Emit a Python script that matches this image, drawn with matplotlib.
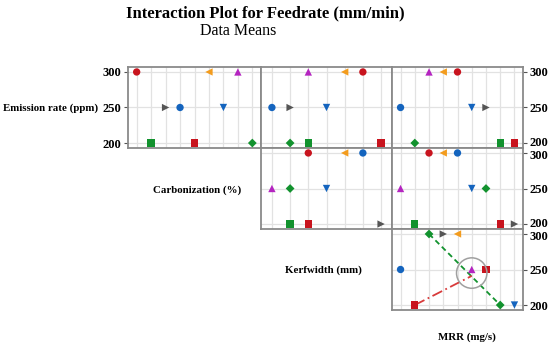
import matplotlib.pyplot as plt
from matplotlib.transforms import ScaledTranslation

# marker styles: key -> (colour, marker)
styles = {
    'red_circle': ('#c8141e', 'o'),
    'green_square': ('#12922e', 's'),
    'gray_right': ('#555555', '>'),
    'blue_circle': ('#1464be', 'o'),
    'red_square': ('#c8141e', 's'),
    'orange_left': ('#f39c1e', '<'),
    'blue_down': ('#1464be', 'v'),
    'magenta_up': ('#b424c0', '^'),
    'green_diamond': ('#12922e', 'D'),
}

row0_keys = ['red_circle', 'green_square', 'gray_right', 'blue_circle', 'red_square',
             'orange_left', 'blue_down', 'magenta_up', 'green_diamond']
emission = [300, 200, 250, 250, 200, 300, 250, 300, 200]
x_00 = [1, 2, 3, 4, 5, 6, 7, 8, 9]
x_01 = [6, 3, 2, 1, 7, 5, 4, 3, 2]
x_02 = [5, 8, 7, 1, 9, 4, 6, 3, 2]

carbonization = [300, 200, 200, 300, 200, 300, 250, 250, 250]
x_11 = [3, 2, 7, 6, 3, 5, 4, 1, 2]
x_12 = [3, 2, 9, 5, 8, 4, 6, 1, 7]

row2_keys = ['green_diamond', 'gray_right', 'orange_left', 'blue_circle', 'magenta_up',
             'red_square', 'red_square', 'green_diamond', 'blue_down']
kerfwidth = [300, 300, 300, 250, 250, 250, 200, 200, 200]
x_22 = [3, 4, 5, 1, 6, 7, 2, 8, 9]

# fitted lines in the MRR panel
green_line_x, green_line_y = [3, 8], [300, 200]
red_line_x, red_line_y = [2, 6], [200, 241]
circle_x, circle_y = 6, 245

n_levels = {0: 9, 1: 7, 2: 9}
yticks = [200, 250, 300]

W, H = 550, 347
fig = plt.figure(figsize=(W / 100, H / 100), dpi=100)
plt.rcParams['font.family'] = ['Liberation Serif', 'DejaVu Serif']

col_edges = [128, 261, 392, 523]
row_edges = [67, 148, 229, 310]


def make_ax(r, c):
    left = col_edges[c] / W
    width = (col_edges[c + 1] - col_edges[c]) / W
    bottom = 1 - row_edges[r + 1] / H
    height = (row_edges[r + 1] - row_edges[r]) / H
    ax = fig.add_axes([left, bottom, width, height])
    n = n_levels[c]
    ax.set_xlim(0.4, n + 0.6)
    ax.set_ylim(193, 307)
    ax.set_xticks(range(1, n + 1))
    ax.set_yticks(yticks)
    ax.grid(True, color='#e2e2e2', lw=0.9)
    ax.set_axisbelow(True)
    for s in ax.spines.values():
        s.set_color('#8a8a8a')
        s.set_linewidth(1.3)
    ax.tick_params(axis='x', length=0, labelbottom=False)
    ax.tick_params(axis='y', length=3, width=0.8, color='#555555', labelsize=9,
                   pad=2, left=False, labelleft=False, right=False, labelright=False)
    return ax


def draw(ax, keys, xs, ys):
    for k, x, y in zip(keys, xs, ys):
        col, m = styles[k]
        size = 20 if m == 'D' else 28
        ax.scatter(x, y, color=col, marker=m, s=size, zorder=3, clip_on=False,
                   edgecolors='none')


ax00 = make_ax(0, 0)
draw(ax00, row0_keys, x_00, emission)
ax00.tick_params(axis='y', left=True, labelleft=True)
ax01 = make_ax(0, 1)
draw(ax01, row0_keys, x_01, emission)
ax02 = make_ax(0, 2)
draw(ax02, row0_keys, x_02, emission)
ax02.tick_params(axis='y', right=True, labelright=True)

ax11 = make_ax(1, 1)
draw(ax11, row0_keys, x_11, carbonization)
ax12 = make_ax(1, 2)
draw(ax12, row0_keys, x_12, carbonization)
ax12.tick_params(axis='y', right=True, labelright=True)

ax22 = make_ax(2, 2)
ax22.plot(green_line_x, green_line_y, color='#12922e', ls=(0, (3, 2)), lw=1.3, zorder=2)
ax22.plot(red_line_x, red_line_y, color='#d83a3a', ls=(0, (6, 2, 1, 2)), lw=1.3, zorder=2)
ax22.scatter(circle_x, circle_y, s=480, facecolors='none', edgecolors='#a0a0a0',
             lw=1.1, zorder=4)
draw(ax22, row2_keys, x_22, kerfwidth)
ax22.tick_params(axis='y', right=True, labelright=True)

for ax in fig.axes:
    for t in ax.get_yticklabels():
        t.set_fontweight('bold')

# nudge the stacked 200 / 300 labels at the row boundaries slightly apart
up = ScaledTranslation(0, 1.5 / 100, fig.dpi_scale_trans)
down = ScaledTranslation(0, -1.5 / 100, fig.dpi_scale_trans)
for ax in (ax02, ax12):
    t = ax.get_yticklabels()[0]
    t.set_transform(t.get_transform() + up)
for ax in (ax12, ax22):
    t = ax.get_yticklabels()[-1]
    t.set_transform(t.get_transform() + down)

fig.text(265 / W, 1 - 13 / H, 'Interaction Plot for Feedrate (mm/min)', ha='center',
         va='center', fontsize=12, fontweight='bold')
fig.text(238 / W, 1 - 31 / H, 'Data Means', ha='center', va='center', fontsize=11.5)

lab = dict(fontsize=7.8, fontweight='bold', va='center')
fig.text(3 / W, 1 - 108 / H, 'Emission rate (ppm)', ha='left', **lab)
fig.text(197 / W, 1 - 190 / H, 'Carbonization (%)', ha='center', **lab)
fig.text(323 / W, 1 - 270 / H, 'Kerfwidth (mm)', ha='center', **lab)
fig.text(467 / W, 1 - 337 / H, 'MRR (mg/s)', ha='center', **lab)

fig.savefig('out.png', dpi=100)
